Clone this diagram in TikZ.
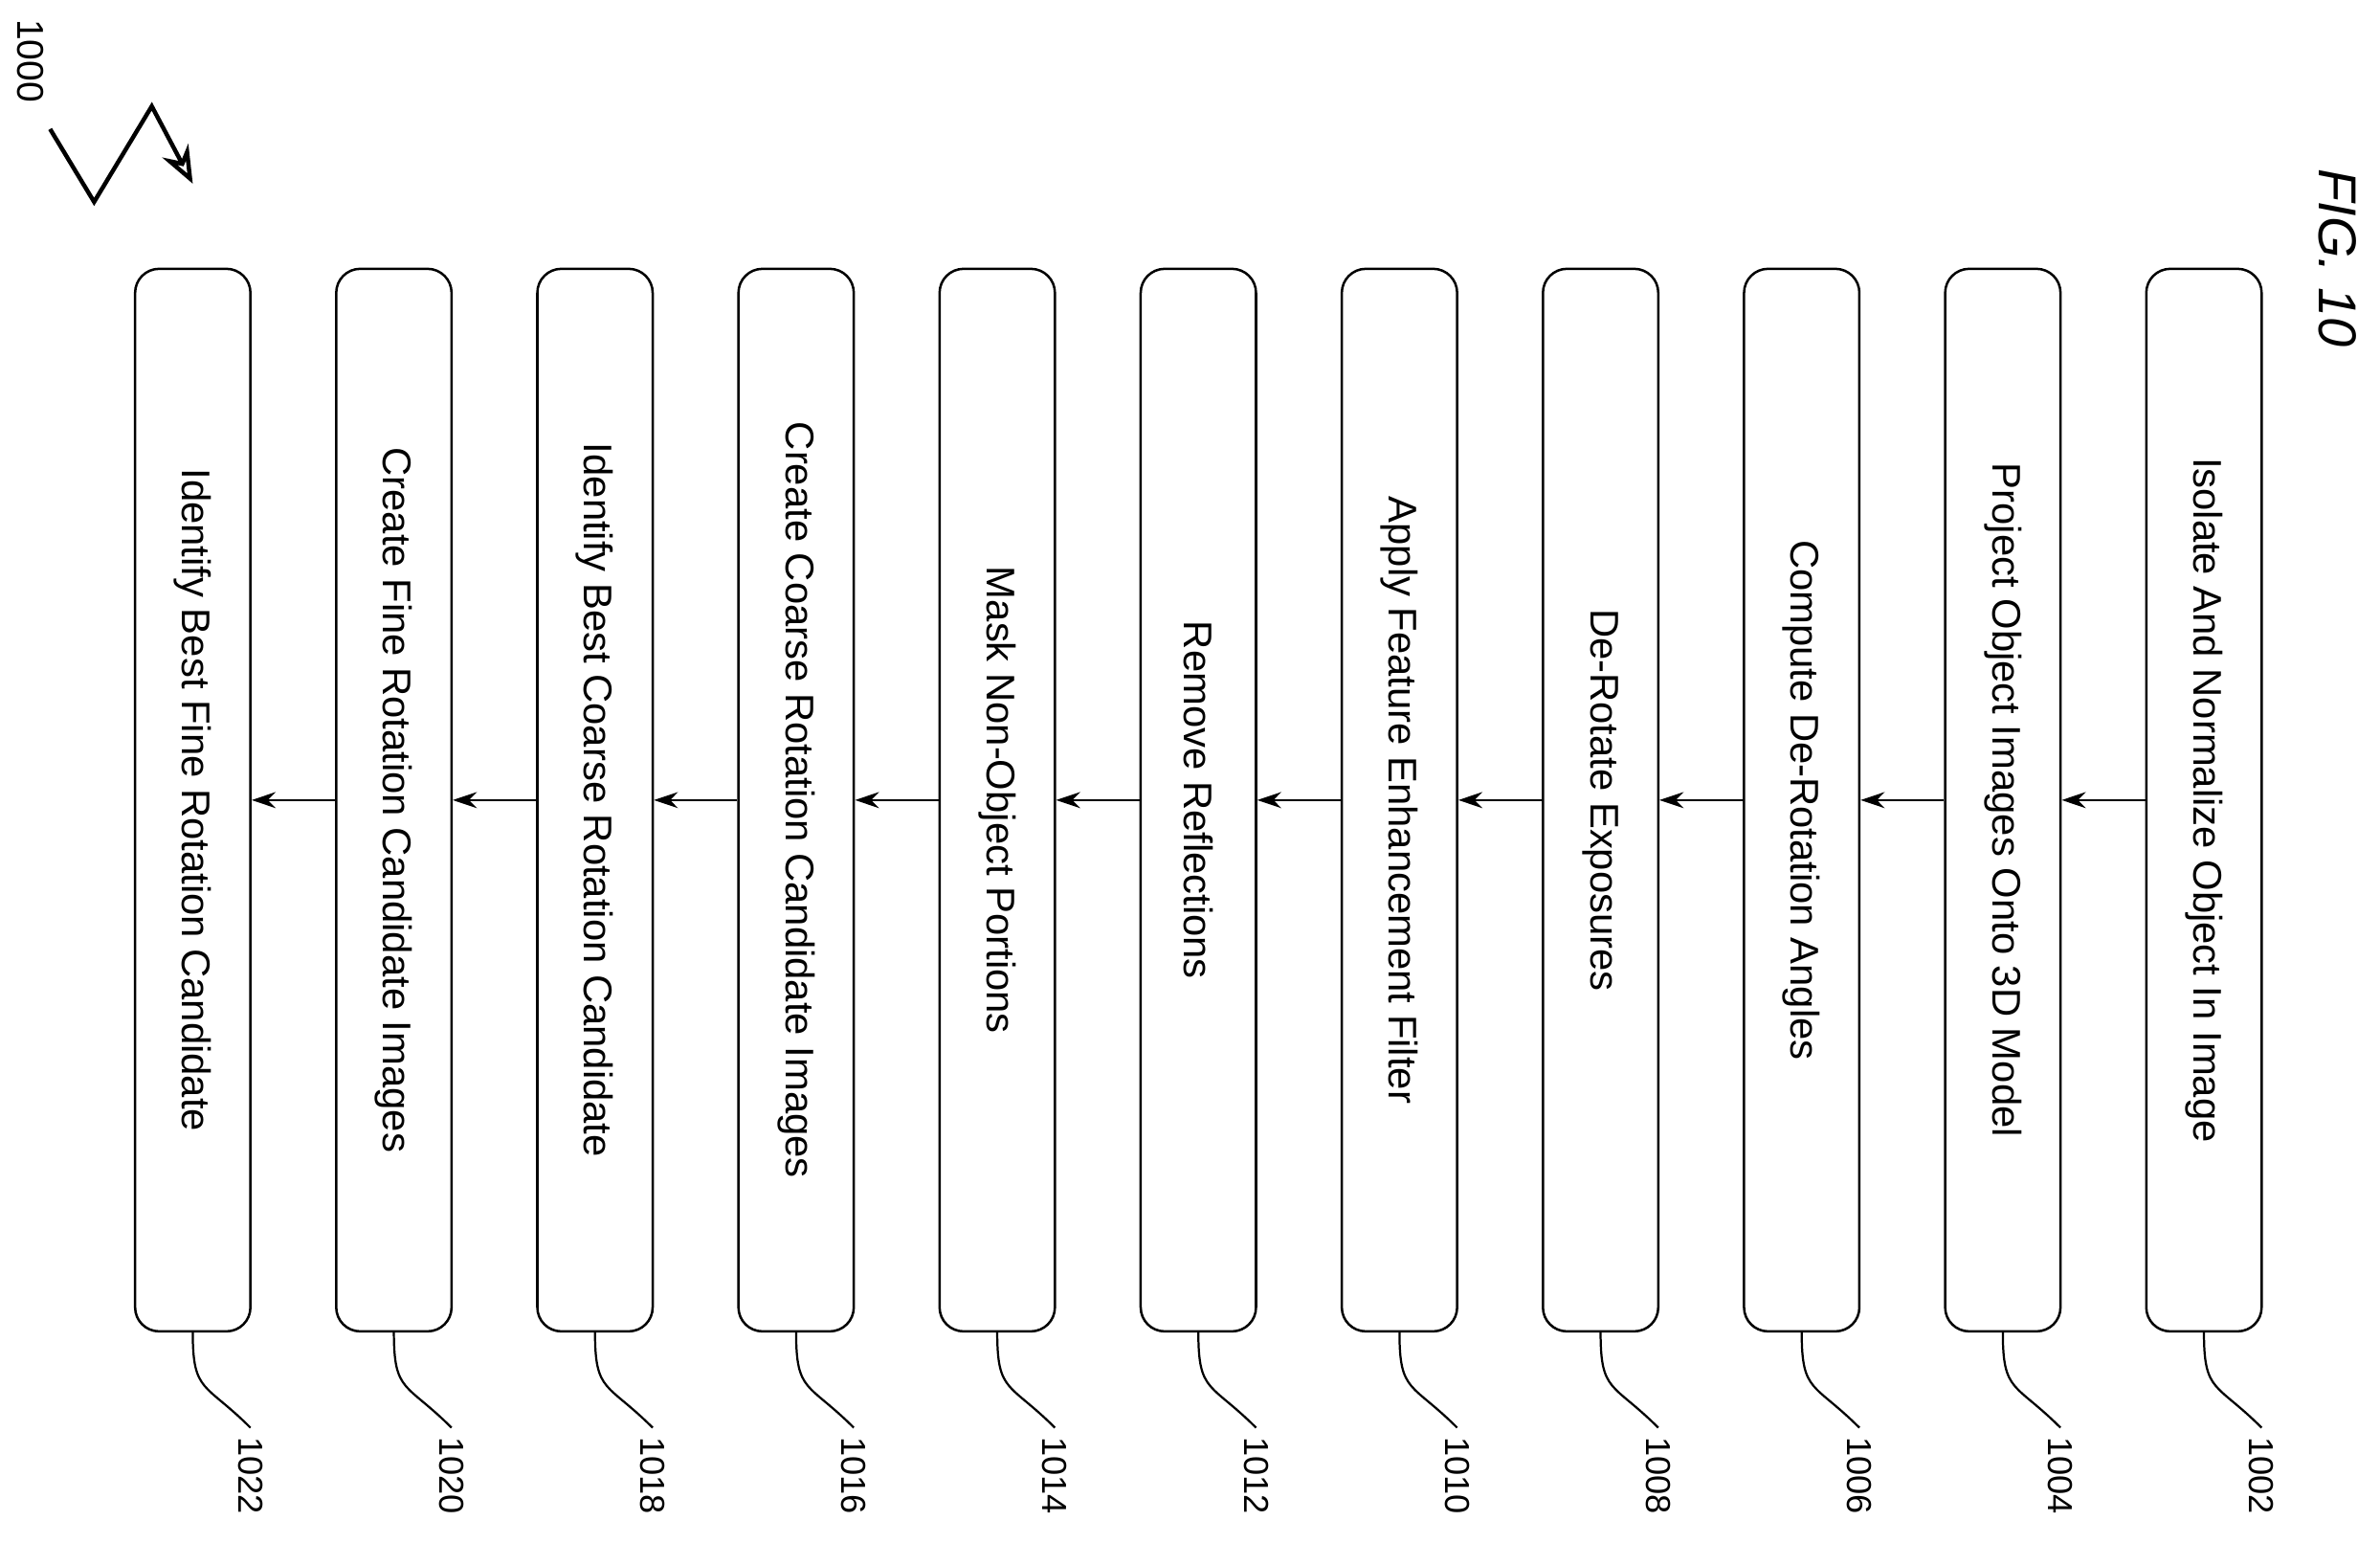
\documentclass[tikz,border=0pt]{standalone}
\usepackage{fontspec}
\setmainfont{Liberation Sans}
\usetikzlibrary{arrows.meta}
\begin{document}
\begin{tikzpicture}[x=0.02cm,y=-0.02cm,
  stepbox/.style={draw,line width=0.9pt,rounded corners=9pt,rotate=-90,
    minimum width=14cm,minimum height=1.52cm,font=\fontsize{15}{17}\selectfont},
  tag/.style={rotate=-90,font=\fontsize{13}{15}\selectfont},
  flow/.style={-{Stealth[length=9pt,width=6pt]},line width=0.9pt}]
\useasboundingbox (0,0) rectangle (1568,1016);

\foreach \i/\t/\n in {1/Identify Best Fine Rotation Candidate/1022,
  2/Create Fine Rotation Candidate Images/1020,
  3/Identify Best Coarse Rotation Candidate/1018,
  4/Create Coarse Rotation Candidate Images/1016,
  5/Mask Non-Object Portions/1014,
  6/Remove Reflections/1012,
  7/Apply Feature Enhancement Filter/1010,
  8/De-Rotate Exposures/1008,
  9/Compute De-Rotation Angles/1006,
  10/Project Object Images Onto 3D Model/1004,
  11/Isolate And Normalize Object In Image/1002}{
  \node[stepbox] (b\i) at ({127+132.5*(\i-1)},527) {\t};
  \node[tag] (l\i) at ({165+132.5*(\i-1)},972) {\n};
  \draw[line width=0.8pt] (b\i.east) .. controls +(0,40) and +(-30,-30) .. (l\i.west);
}

% arrows between steps
\foreach \i [evaluate=\i as \j using int(\i+1)] in {1,...,10}
  \draw[flow] (b\j.south) -- (b\i.north);

\node[rotate=-90,font=\fontsize{20}{22}\selectfont\itshape] (fig) at (1540,170) {FIG. 10};
\node[rotate=-90,font=\fontsize{14}{16}\selectfont] (ref) at (20,40) {1000};
\coordinate (z0) at (33,85);
\coordinate (z1) at (62,133);
\coordinate (z2) at (100,70);
\coordinate (z3) at (127,121);
\draw[line width=1.6pt,-{Stealth[length=14pt,width=11pt,open]}] (z0) -- (z1) -- (z2) -- (z3);
\end{tikzpicture}
\end{document}
